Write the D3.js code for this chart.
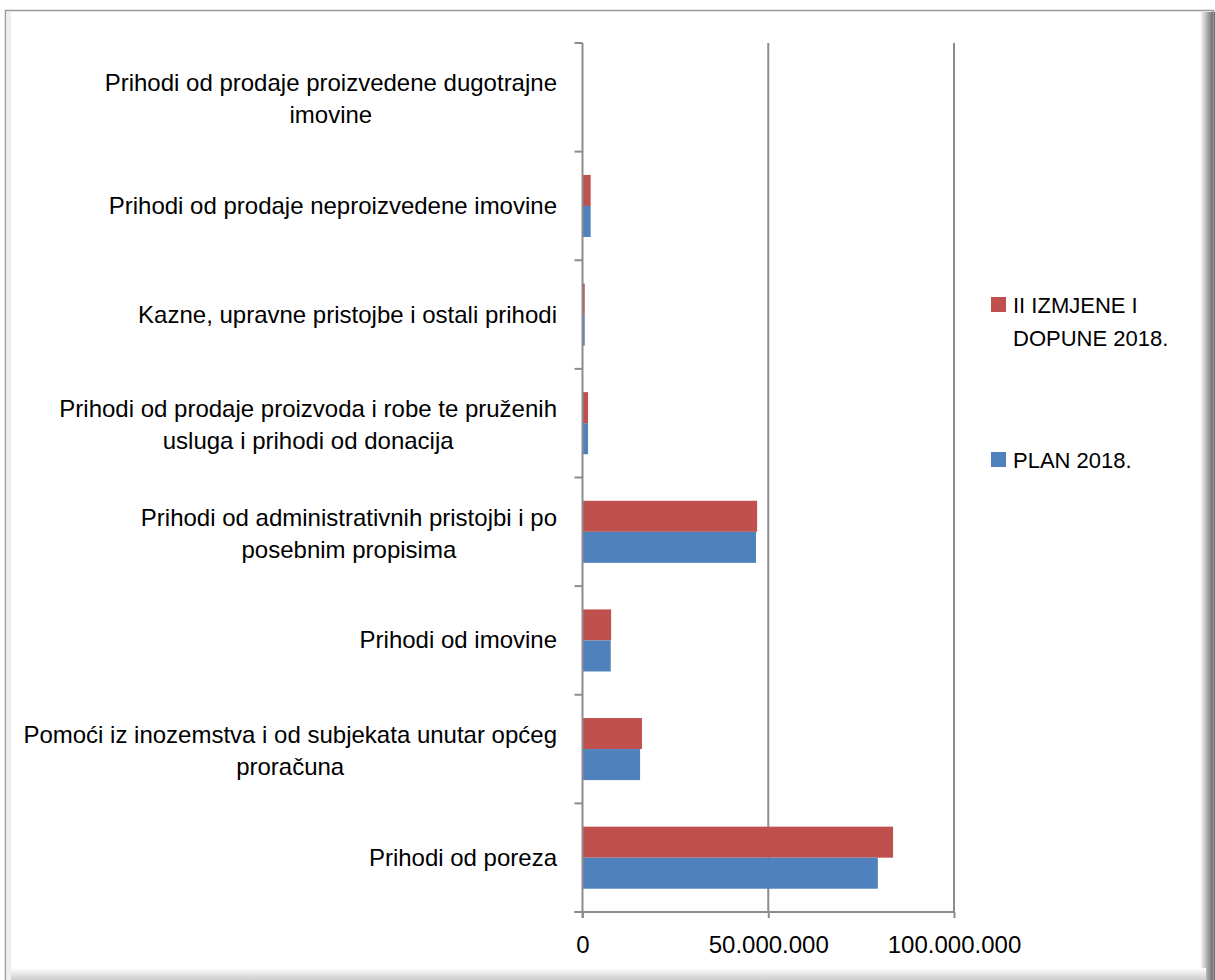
<!DOCTYPE html>
<html>
<head>
<meta charset="utf-8">
<script src="https://cdn.jsdelivr.net/npm/d3@7"></script>
<style>
  body { margin: 0; background: #fff; }
  text { font-family: "Liberation Sans", Arial, sans-serif; fill: #000; }
</style>
</head>
<body>
<script>
// categories, bottom to top as drawn
var categories = [
  ["Prihodi od poreza"],
  ["Pomoći iz inozemstva i od subjekata unutar općeg", "proračuna"],
  ["Prihodi od imovine"],
  ["Prihodi od administrativnih pristojbi i po", "posebnim propisima"],
  ["Prihodi od prodaje proizvoda i robe te pruženih", "usluga i prihodi od donacija"],
  ["Kazne, upravne pristojbe i ostali prihodi"],
  ["Prihodi od prodaje neproizvedene imovine"],
  ["Prihodi od prodaje proizvedene dugotrajne", "imovine"]
];
var izmjene = [83600000, 16000000, 7700000, 47000000, 1500000, 600000, 2200000, 0];
var plan    = [79500000, 15500000, 7600000, 46700000, 1500000, 600000, 2200000, 0];
var tickValues = [0, 50000000, 100000000];
var seriesNames = ["II IZMJENE I|DOPUNE 2018.", "PLAN 2018."];
var seriesColors = ["#c0504d", "#4f81bd"];

var width = 1215, height = 980;

var svg = d3.select("body").append("svg")
    .attr("width", width)
    .attr("height", height);

// frame with shadow on right / bottom
var defs = svg.append("defs");
var gr = defs.append("linearGradient").attr("id", "shR").attr("x1", 0).attr("x2", 1).attr("y1", 0).attr("y2", 0);
gr.append("stop").attr("offset", 0).attr("stop-color", "#fff");
gr.append("stop").attr("offset", 1).attr("stop-color", "#555");
var gb = defs.append("linearGradient").attr("id", "shB").attr("x1", 0).attr("x2", 0).attr("y1", 0).attr("y2", 1);
gb.append("stop").attr("offset", 0).attr("stop-color", "#fff");
gb.append("stop").attr("offset", 1).attr("stop-color", "#ccc");

svg.append("rect").attr("x", 1200).attr("y", 12).attr("width", 15).attr("height", 968).attr("fill", "url(#shR)");
svg.append("rect").attr("x", 6).attr("y", 968).attr("width", 1200).attr("height", 12).attr("fill", "url(#shB)");
svg.append("rect").attr("x", 5.5).attr("y", 10.5).attr("width", 1208).attr("height", 980)
    .attr("fill", "none").attr("stroke", "#999").attr("stroke-width", 1.5);
svg.append("rect").attr("x", 6).attr("y", 12).attr("width", 5).attr("height", 968).attr("fill", "#eee");

var plotLeft = 582.5, plotRight = 954, plotTop = 43, plotBottom = 912;

var x = d3.scaleLinear()
    .domain([0, 100000000])
    .range([plotLeft, plotRight]);

var y = d3.scaleBand()
    .domain(d3.range(categories.length))
    .range([plotBottom, plotTop]);

var inner = d3.scaleBand()
    .domain([0, 1])
    .range([0, y.bandwidth()])
    .paddingOuter(0.75);

var g = svg.append("g");

// vertical gridlines
g.selectAll("line.grid")
  .data(tickValues.slice(1))
  .enter().append("line")
    .attr("x1", function(d) { return x(d); })
    .attr("x2", function(d) { return x(d); })
    .attr("y1", plotTop)
    .attr("y2", plotBottom)
    .attr("stroke", "#8c8c8c")
    .attr("stroke-width", 2);

// bars
var series = [izmjene, plan];
series.forEach(function(vals, si) {
  g.selectAll("rect.s" + si)
    .data(vals)
    .enter().append("rect")
      .attr("x", x(0))
      .attr("y", function(d, i) { return y(i) + inner(si); })
      .attr("width", function(d) { return x(d) - x(0); })
      .attr("height", inner.bandwidth())
      .attr("fill", seriesColors[si]);
});

// y axis line and ticks
g.append("line")
    .attr("x1", plotLeft).attr("x2", plotLeft)
    .attr("y1", plotTop).attr("y2", plotBottom + 6)
    .attr("stroke", "#8c8c8c").attr("stroke-width", 2);
var yTicks = d3.range(categories.length + 1).map(function(i) { return plotBottom - i * y.step(); });
g.selectAll("line.ytick")
  .data(yTicks)
  .enter().append("line")
    .attr("x1", plotLeft - 8).attr("x2", plotLeft)
    .attr("y1", function(d) { return d; }).attr("y2", function(d) { return d; })
    .attr("stroke", "#8c8c8c").attr("stroke-width", 2);

// x axis
var xAxis = g.append("g")
    .attr("transform", "translate(0," + plotBottom + ")")
    .call(d3.axisBottom(x)
      .tickValues(tickValues)
      .tickSize(6)
      .tickFormat(function(d) { return d3.format(",")(d).replace(/,/g, "."); }));
xAxis.select(".domain").attr("stroke", "#8c8c8c").attr("stroke-width", 2).attr("d", "M" + (plotLeft - 8) + ",0H" + plotRight);
xAxis.selectAll(".tick line").attr("stroke", "#8c8c8c").attr("stroke-width", 2);
xAxis.selectAll(".tick text")
    .attr("font-size", 24)
    .attr("y", 24)
    .attr("font-family", "Liberation Sans, Arial, sans-serif");

// category labels
var labelRight = 557;
categories.forEach(function(lines, i) {
  var cy = y(i) + y.bandwidth() / 2;
  var t = g.append("text")
      .attr("font-size", 24)
      .attr("text-anchor", "end");
  if (lines.length == 1) {
    t.append("tspan").attr("x", labelRight).attr("y", cy + 8).text(lines[0]);
  } else {
    t.append("tspan").attr("x", labelRight).attr("y", cy - 6).text(lines[0]);
    var w = t.node().getComputedTextLength();
    g.append("text")
      .attr("font-size", 24)
      .attr("text-anchor", "middle")
      .attr("x", labelRight - w / 2)
      .attr("y", cy + 26)
      .text(lines[1]);
  }
});

// legend
var legendY = [305, 460];
seriesNames.forEach(function(name, si) {
  var lg = svg.append("g").attr("transform", "translate(991," + legendY[si] + ")");
  lg.append("rect").attr("x", 0).attr("y", -8).attr("width", 15).attr("height", 15).attr("fill", seriesColors[si]);
  var parts = name.split("|");
  parts.forEach(function(p, k) {
    lg.append("text")
      .attr("x", 22)
      .attr("y", 8 + k * 33)
      .attr("font-size", 22)
      .text(p);
  });
});
</script>
</body>
</html>
